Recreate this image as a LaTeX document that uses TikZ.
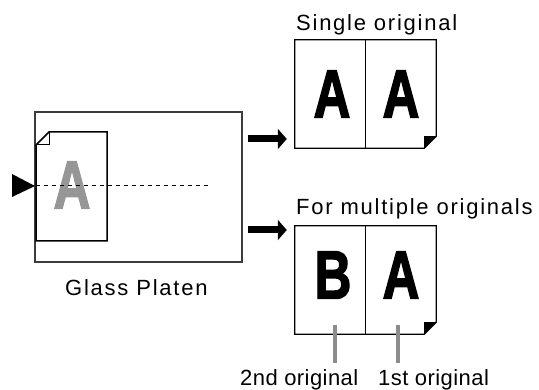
\documentclass[tikz,border=0pt]{standalone}
\usepackage{fontspec}
\usepackage{graphicx}
\usepackage{tikz}
\usetikzlibrary{arrows.meta,calc,positioning}
\setmainfont{Liberation Sans}
\newfontfamily\labelfont[LetterSpace=8]{Liberation Sans}
\newfontfamily\tightfont[LetterSpace=2]{Liberation Sans}
\newfontfamily\heavyfont[FakeBold=2.5]{Liberation Sans Bold}
\definecolor{platengray}{RGB}{150, 150, 150}
\definecolor{leadergray}{RGB}{140, 140, 140}
\definecolor{frameslate}{RGB}{60, 60, 60}
\newcommand{\squeeze}[1]{\scalebox{0.75}[1]{#1}}
\tikzset{
  caption/.style={inner sep=0pt,anchor=base west,font=\labelfont\fontsize{22}{26}\selectfont},
  tightcaption/.style={caption,font=\tightfont\fontsize{22}{26}\selectfont},
  bigletter/.style={inner sep=0pt,font=\heavyfont\fontsize{68}{70}\selectfont},
  pagebox/.style={inner sep=0pt,minimum width=141pt,minimum height=108pt},
  fatarrow/.style={line width=7pt,-{Triangle[length=9pt,width=20pt]}},
  leader/.style={leadergray,line width=4pt},
}

\begin{document}
\begin{tikzpicture}[x=1pt,y=-1pt]
    \useasboundingbox (0,0) rectangle (539,390);
    % Glass platen with the original placed on it
    \node[draw=frameslate,line width=1.2pt,minimum width=207pt,minimum height=150pt,inner sep=0pt] (platen) at (138.5,187) {};
    \draw[line width=1.5pt] (49,132) -- (107,132) -- (107,241) -- (36,241) -- (36,145) -- cycle;
    \draw[line width=1pt] (49,132) -- (49,145) -- (36,145);
    \node[bigletter,text=platengray] (scanA) at (72,185) {\squeeze{A}};
    \draw[line width=1pt,dash pattern=on 4pt off 4pt] (36,186) -- (209,186);
    \fill (12,174) -- (35,186) -- (12,197) -- cycle;
    \node[caption] (platenlabel) at (65,296) {Glass Platen};

    % Single original
    \node[caption] (singlelabel) at (296,31) {Single original};
    \node[pagebox] (single) at (365.5,94) {};
    \draw[line width=1.3pt] (single.north west) -- (single.north east) -- ([yshift=12pt]single.south east)
        -- ([xshift=-12pt]single.south east) -- (single.south west) -- cycle;
    \fill ([xshift=-12pt]single.south east) -- ([xshift=-12pt,yshift=12pt]single.south east)
        -- ([yshift=12pt]single.south east) -- cycle;
    \draw[line width=1.3pt] (single.north) -- (single.south);
    \node[bigletter] (singleA1) at (332,94) {\squeeze{A}};
    \node[bigletter] (singleA2) at (401,94) {\squeeze{A}};

    % Multiple originals
    \node[caption] (multilabel) at (296,215) {For multiple originals};
    \node[pagebox] (multi) at (365.5,280) {};
    \draw[line width=1.3pt] (multi.north west) -- (multi.north east) -- ([yshift=12pt]multi.south east)
        -- ([xshift=-12pt]multi.south east) -- (multi.south west) -- cycle;
    \fill ([xshift=-12pt]multi.south east) -- ([xshift=-12pt,yshift=12pt]multi.south east)
        -- ([yshift=12pt]multi.south east) -- cycle;
    \draw[line width=1.3pt] (multi.north) -- (multi.south);
    \node[bigletter] (multiB) at (333,275) {\squeeze{B}};
    \node[bigletter] (multiA) at (401,275) {\squeeze{A}};

    % Arrows from platen to the copies
    \draw[fatarrow] ($(platen.east|-0,139)+(5,0)$) -- ($(single.west|-0,139)+(-8,0)$);
    \draw[fatarrow] ($(platen.east|-0,230)+(5,0)$) -- ($(multi.west|-0,230)+(-8,0)$);

    % Leaders to the original labels
    \node[tightcaption] (secondlabel) at (240,386) {2nd original};
    \node[tightcaption] (firstlabel) at (378,386) {1st original};
    \draw[leader] (335,325) -- (335,363);
    \draw[leader] (398,325) -- (398,363);
\end{tikzpicture}
\end{document}
